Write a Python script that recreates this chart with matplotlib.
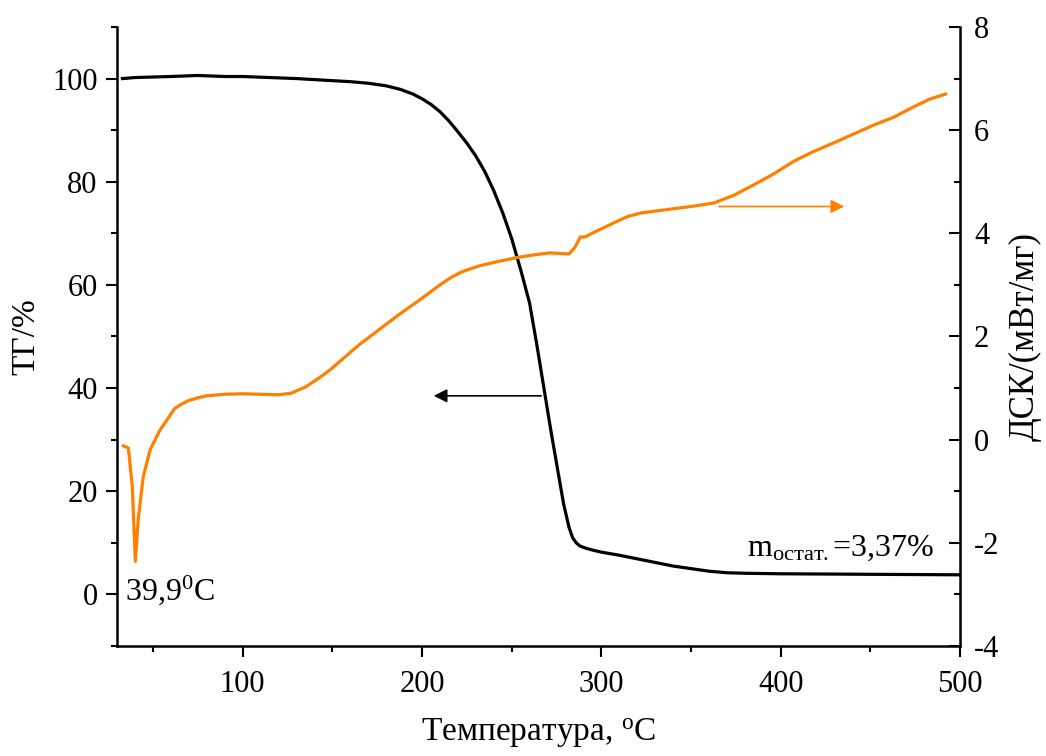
import matplotlib
matplotlib.use("Agg")
import matplotlib.pyplot as plt
import numpy as np

plt.rcParams['font.family'] = ['Liberation Serif', 'DejaVu Serif']
plt.rcParams['mathtext.fontset'] = 'custom'
plt.rcParams['mathtext.rm'] = 'Liberation Serif'
plt.rcParams['mathtext.it'] = 'Liberation Serif:italic'
plt.rcParams['axes.unicode_minus'] = False

# TG curve, %
temp_tg = [33, 40, 50, 60, 75, 90, 100, 115, 130, 145, 160, 170, 180, 188, 195,
           200, 205, 210, 215, 220, 225, 230, 235, 240, 245, 250, 255, 260, 264,
           268, 272, 276, 279, 282, 284, 286, 288, 291, 295, 300, 310, 320, 330,
           340, 350, 360, 370, 380, 400, 450, 500]
tg = [100.0, 100.2, 100.3, 100.4, 100.6, 100.4, 100.4, 100.2, 100.0, 99.7, 99.4,
      99.1, 98.6, 97.9, 97.0, 96.1, 95.0, 93.6, 91.8, 89.7, 87.5, 85.0, 82.0, 78.3,
      74.0, 69.0, 63.0, 56.5, 48.5, 40.0, 31.5, 23.5, 17.5, 13.0, 11.0, 10.0, 9.4,
      9.0, 8.6, 8.2, 7.6, 6.9, 6.2, 5.5, 5.0, 4.5, 4.2, 4.1, 4.0, 3.9, 3.8]

# DSC curve, mW/mg
temp_dsc = [33.5, 36.3, 38.5, 40.2, 41.8, 44.6, 48.5, 54, 58, 62, 66, 70, 75, 80,
            90, 100, 110, 120, 127, 135, 142, 149, 165, 187, 200, 210, 216, 222,
            232, 242, 253, 262, 271, 277, 282, 285.5, 288.3, 291, 296, 302, 308,
            315, 323, 332, 341, 352, 363, 374, 385, 396, 407, 418, 430, 441, 452,
            463, 474, 483, 492]
dsc = [-0.12, -0.16, -0.91, -2.36, -1.55, -0.72, -0.19, 0.19, 0.39, 0.6, 0.69,
       0.76, 0.81, 0.85, 0.88, 0.89, 0.88, 0.87, 0.9, 1.02, 1.18, 1.36, 1.84, 2.42,
       2.74, 3.0, 3.14, 3.25, 3.37, 3.45, 3.53, 3.58, 3.62, 3.61, 3.6, 3.74, 3.93,
       3.93, 4.02, 4.12, 4.22, 4.33, 4.40, 4.44, 4.48, 4.53, 4.59, 4.74, 4.94, 5.15,
       5.39, 5.58, 5.76, 5.93, 6.1, 6.25, 6.45, 6.6, 6.7]

orange = '#ff7f00'
fs = 22

fig = plt.figure(figsize=(10.46, 7.56), dpi=100)
ax = fig.add_axes([0.1119, 0.1455, 0.8059, 0.8188])
ax2 = ax.twinx()

ax.plot(temp_tg, tg, color='black', lw=2.3)
ax2.plot(temp_dsc, dsc, color=orange, lw=2.3)

ax.set_xlim(30, 500)
ax.set_ylim(-10, 110)
ax2.set_ylim(-4, 8)

ax.set_xticks(np.arange(100, 501, 100))
ax.set_xticks(np.arange(50, 501, 50), minor=True)
ax.set_yticks(np.arange(0, 101, 20))
ax.set_yticks(np.arange(-10, 111, 10), minor=True)
ax2.set_yticks(np.arange(-4, 9, 2))
ax2.set_yticks(np.arange(-4, 9, 1), minor=True)

for a in (ax, ax2):
    a.spines['top'].set_visible(False)
    for s in a.spines.values():
        s.set_linewidth(1.8)
ax.spines['right'].set_visible(False)
ax2.spines['left'].set_visible(False)
ax2.spines['bottom'].set_visible(False)

ax.tick_params(axis='both', which='major', direction='out', length=8, width=1.5,
               labelsize=fs, pad=6)
ax.tick_params(axis='x', which='major', pad=9)
ax.tick_params(axis='both', which='minor', direction='out', length=4, width=1.5)
ax2.tick_params(axis='y', which='major', direction='in', length=8, width=1.5,
                labelsize=fs, pad=10)
ax2.tick_params(axis='y', which='minor', direction='in', length=4, width=1.5)

ax.set_xlabel('Температура, $^{\\mathrm{o}}$C', fontsize=24, labelpad=13)
ax.set_ylabel('ТГ/%', fontsize=24, labelpad=8)
ax2.set_ylabel('ДСК/(мВт/мг)', fontsize=25, labelpad=7)

# arrows
ax.annotate('', xy=(205, 38.5), xytext=(268, 38.5),
            arrowprops=dict(arrowstyle='-|>', color='black', lw=1.2, mutation_scale=20))
ax2.annotate('', xy=(437, 4.52), xytext=(364, 4.52),
             arrowprops=dict(arrowstyle='-|>', color=orange, lw=1.2, mutation_scale=20))

ax.text(34.5, -1.0, '39,9$^{0}$C', fontsize=23, ha='left', va='baseline')
ax.text(381, 7.5, 'm$_{\\mathrm{остат.}}$=3,37%', fontsize=23, ha='left', va='baseline')

fig.savefig('out.png', dpi=100)
